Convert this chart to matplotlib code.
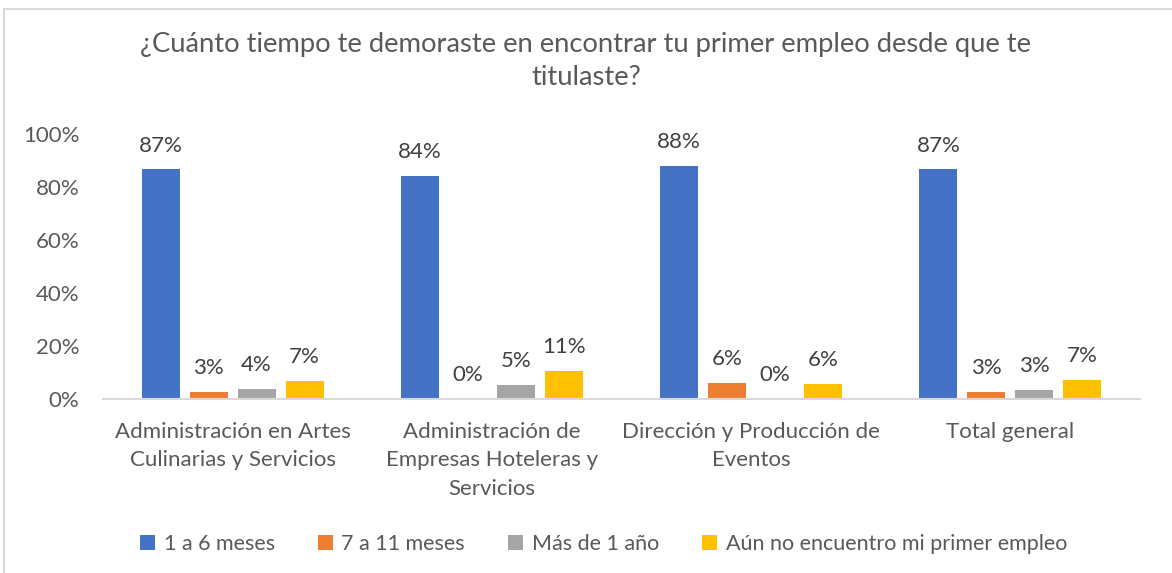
import numpy as np
import matplotlib.pyplot as plt
from matplotlib.patches import Rectangle

plt.rcParams['font.family'] = ['Lato', 'DejaVu Sans']

categories = ['Administración en Artes\nCulinarias y Servicios',
              'Administración de\nEmpresas Hoteleras y\nServicios',
              'Dirección y Producción de\nEventos',
              'Total general']
series = ['1 a 6 meses', '7 a 11 meses', 'Más de 1 año',
          'Aún no encuentro mi primer empleo']
uno_a_seis = [0.866, 0.842, 0.879, 0.866]
siete_a_once = [0.026, 0.0, 0.060, 0.026]
mas_de_un_anio = [0.038, 0.053, 0.0, 0.034]
sin_empleo = [0.068, 0.106, 0.057, 0.072]
yticks = [0, 0.2, 0.4, 0.6, 0.8, 1.0]
ytick_labels = ['0%', '20%', '40%', '60%', '80%', '100%']

colors = ['#4472C4', '#ED7D31', '#A5A5A5', '#FFC000']
gray_text = '#595959'

fig = plt.figure(figsize=(11.72, 5.73), dpi=100)
ax = fig.add_axes([0.0879, 0.3037, 0.8848, 0.4625])

x = np.arange(len(categories))
width = 0.147
step = 0.185
for i, (vals, name) in enumerate(zip([uno_a_seis, siete_a_once, mas_de_un_anio, sin_empleo], series)):
    pos = x + (i - 1.5) * step
    ax.bar(pos, vals, width, color=colors[i], label=name)
    for p, v in zip(pos, vals):
        ax.annotate(f'{round(v * 100):.0f}%', (p, v), xytext=(0, 10), textcoords='offset points',
                    ha='center', va='bottom', fontsize=16, color='#404040')

ax.set_xlim(-0.5, len(categories) - 0.5)
ax.set_ylim(0, 1)
ax.set_yticks(yticks)
ax.set_yticklabels(ytick_labels, fontsize=16, color=gray_text)
ax.set_xticks(x)
ax.set_xticklabels(categories, fontsize=16, color=gray_text, linespacing=1.52)
ax.tick_params(length=0)
ax.tick_params(axis='x', pad=16.5)
ax.tick_params(axis='y', pad=17)
for s in ['top', 'right', 'left']:
    ax.spines[s].set_visible(False)
ax.spines['bottom'].set_color('#D9D9D9')
ax.spines['bottom'].set_linewidth(1.5)

fig.suptitle('¿Cuánto tiempo te demoraste en encontrar tu primer empleo desde que te\ntitulaste?',
             y=0.945, va='top', fontsize=19.7, color=gray_text, linespacing=1.42)

fig.legend(loc='center', bbox_to_anchor=(0.515, 0.051), ncol=4, frameon=False,
           fontsize=15.5, handlelength=0.7, handleheight=0.7, columnspacing=2.0,
           handletextpad=0.4, labelcolor=gray_text)

fig.patches.append(Rectangle((0.003, -0.01), 1.1, 0.995, transform=fig.transFigure,
                             fill=False, edgecolor='#D9D9D9', linewidth=1.5))

fig.savefig('out.png', dpi=100)
